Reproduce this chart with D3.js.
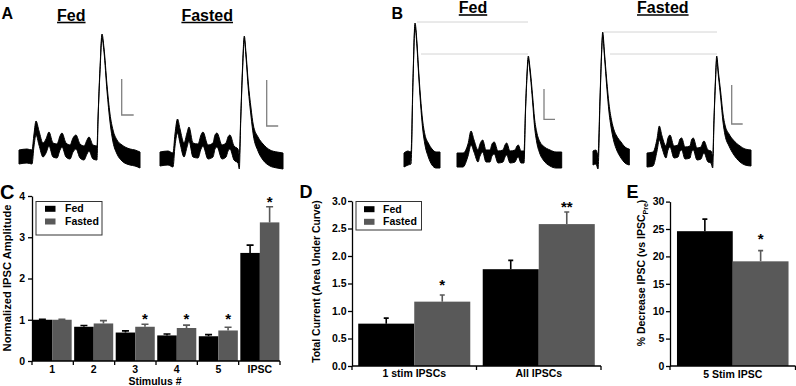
<!DOCTYPE html>
<html><head><meta charset="utf-8">
<script src="https://cdn.jsdelivr.net/npm/d3@7"></script>
<style>
body{margin:0;background:#fff;}
svg{display:block;font-family:"Liberation Sans",Arial,sans-serif;font-weight:bold;}
</style>
</head><body>
<svg id="chart" width="796" height="386"></svg>
<script>
// ---------- DATA ----------
// Panel C
const cCategories = ["1","2","3","4","5","IPSC"];
const cFed        = [1.00, 0.83, 0.69, 0.62, 0.60, 2.62];
const cFedErr     = [0.01, 0.03, 0.04, 0.035, 0.04, 0.19];
const cFasted     = [1.00, 0.91, 0.83, 0.80, 0.74, 3.36];
const cFastedErr  = [0.01, 0.07, 0.06, 0.07, 0.08, 0.38];
const cStars      = ["", "", "*", "*", "*", "*"];
const cStarLevel  = [null, null, 1.10, 1.10, 1.10, 3.94];
const cTicks      = [0, 1, 2, 3, 4];
// Panel D
const dCategories = ["1 stim IPSCs", "All IPSCs"];
const dFed        = [0.77, 1.76];
const dFedErr     = [0.10, 0.16];
const dFasted     = [1.17, 2.58];
const dFastedErr  = [0.12, 0.22];
const dStars      = ["*", "**"];
const dStarLevel  = [1.54, 2.96];
const dTicks      = [0, 0.5, 1.0, 1.5, 2.0, 2.5, 3.0];
// Panel E
const eCategories = ["5 Stim IPSC"];
const eFed        = [24.6];
const eFedErr     = [2.2];
const eFasted     = [19.1];
const eFastedErr  = [1.95];
const eStars      = ["*"];
const eStarLevel  = [23.9];
const eTicks      = [0, 5, 10, 15, 20, 25, 30];
const groups      = ["Fed", "Fasted"];

// Traces: [time (ms), current (pA, upward), noise half-band]
const aFedTrace = [[0,13,7],[8,14,7],[13,13,7],[15,30,6],[17,42,7],[20,32,7],[24,20,7],[27,24,7],[30,31,7],[34,20,7],[38,19,7],[41,27,7],[43,30,7],[47,20,7],[51,18,7],[54,25,7],[57,28,7],[61,19,7],[65,17,7],[68,23,7],[70,26,7],[74,18,7],[78,17,7],[79,50,2],[81,100,2],[83,134,2],[85,120,2],[88,82,3],[91,52,4],[94,34,6],[98,23,7],[103,17,8],[111,13,8],[116,12,8],[121,10,8]];
const aFastedTrace = [[0,11,7],[8,12,7],[13,10,7],[15,30,6],[17.5,44,7],[20,34,7],[24,20,7],[27,30,7],[29,36,7],[33,20,7],[38,19,7],[41,28,7],[43,31,7],[48,18,7],[53,20,7],[55,28,7],[57,30,7],[62,18,7],[66,20,7],[68,26,7],[70,28,7],[74,17,7],[78,14,7],[79.3,8,7],[80.7,50,2],[82.5,100,2],[84.3,132,2],[86,115,2],[88.3,84,3],[91,58,4],[93.3,40,5],[98,26,7],[103,18,8],[110,12,8],[117,10,8],[123,9,8]];
const bFedTrace1 = [[0,10,7],[4,12,7],[7,12,6],[9,90,2],[11,145,2],[13,125,2],[14.3,103,2],[16.5,70,3],[18.7,45,4],[21,30,5],[24.3,20,7],[28,13,8],[32,10,8],[36,10,8]];
const bFedTrace2 = [[0,10,7],[6,10,7],[11,20,6],[14,32,7],[17,24,6],[21,14,6],[23,20,6],[25.7,24,6],[29,14,6],[33,14,6],[35,20,6],[37.3,22,6],[41,13,6],[46,14,6],[48,19,6],[49.7,21,6],[53,13,6],[58,14,6],[60,18,6],[61.3,19,6],[64,13,6],[67,13,6],[68.5,60,2],[70,95,2],[71.3,112,2],[73,100,2],[75.7,70,3],[77.5,48,4],[79.7,33,5],[83,22,6],[86.3,17,7],[93,12,8],[99,10,8],[104.7,10,8]];
const bFastedTrace1 = [[0,12,7],[3,13,7],[5,8,7],[7,70,2],[8.5,115,2],[9.7,136,2],[11.5,115,2],[13.7,87,3],[16,62,4],[18.7,44,5],[21,34,6],[23.7,27,7],[28,20,8],[32,15,8],[36.3,13,8]];
const bFastedTrace2 = [[0,10,7],[6,11,7],[10,25,6],[12.3,37,7],[15,28,6],[19,18,6],[21,26,6],[23,29,6],[27,18,6],[31,19,6],[33,25,6],[34.7,26,6],[38,17,6],[43,18,6],[44.5,24,6],[46.3,26,6],[50,16,6],[54,17,6],[56,22,6],[57,23,6],[61,14,6],[64,13,6],[65.7,8,6],[67,50,2],[68.5,90,2],[69.7,112,2],[71.5,95,2],[73.7,75,3],[76,52,4],[78,40,5],[82,30,6],[86.3,23,7],[93,16,8],[98,13,8],[104,12,8]];
const bFedSegStart    = [0, 53];
const bFastedSegStart = [0, 54];
const bFedRefs    = [[13,124,148],[17,124,116]];   // [t0, t1, level]
const bFastedRefs = [[11,124,138],[17,124,116]];
// scale bars: [time, level, dt, dv]
const aFedBar    = [102.7, 55, 12, 36];
const aFastedBar = [106.7, 44, 11.5, 46];
const bFedBar    = [140, 50.7, 11, 30.3];
const bFastedBar = [138.7, 46, 11, 39];

// ---------- DRAW ----------
const svg = d3.select("#chart");
const FED = "#000000", FAST = "#595959";
const colorOf = g => g === "Fed" ? FED : FAST;

// trace drawing
const yT = d3.scaleLinear().domain([0, 150]).range([170, 20]);
function drawTrace(x0, segs, starts, refs, bar) {
  const dur = d3.max(segs, (s, i) => starts[i] + d3.max(s, d => d[0]));
  const xT = d3.scaleLinear().domain([0, dur]).range([x0, x0 + dur]);
  const g = svg.append("g");
  if (refs) refs.forEach(r => {
    g.append("line").attr("x1", xT(r[0])).attr("x2", xT(r[1]))
      .attr("y1", yT(r[2])).attr("y2", yT(r[2]))
      .attr("stroke", "#d4d4d4").attr("stroke-width", 1);
  });
  segs.forEach((s, i) => {
    const area = d3.area()
      .x(d => xT(starts[i] + d[0]))
      .y0(d => yT(d[1] - d[2]))
      .y1(d => yT(d[1] + d[2]))
      .curve(d3.curveMonotoneX);
    g.append("path").attr("d", area(s)).attr("fill", "#000")
      .attr("stroke", "#000").attr("stroke-width", 1).attr("stroke-linejoin", "round");
  });
  g.append("path")
    .attr("d", `M${xT(bar[0])},${yT(bar[1] + bar[3])}V${yT(bar[1])}H${xT(bar[0] + bar[2])}`)
    .attr("fill", "none").attr("stroke", "#808080").attr("stroke-width", 1.3);
}
drawTrace(19, [aFedTrace], [0], null, aFedBar);
drawTrace(160, [aFastedTrace], [0], null, aFastedBar);
drawTrace(404, [bFedTrace1, bFedTrace2], bFedSegStart, bFedRefs, bFedBar);
drawTrace(593, [bFastedTrace1, bFastedTrace2], bFastedSegStart, bFastedRefs, bFastedBar);

// titles
function title(text, cx, y) {
  const t = svg.append("text").attr("x", cx).attr("y", y).attr("text-anchor", "middle")
    .attr("font-size", 16).text(text);
  const w = t.node().getComputedTextLength();
  svg.append("line").attr("x1", cx - w / 2).attr("x2", cx + w / 2)
    .attr("y1", y + 2).attr("y2", y + 2).attr("stroke", "#000").attr("stroke-width", 1.6);
}
title("Fed", 71.3, 20.5);
title("Fasted", 207.2, 20.5);
title("Fed", 473, 13);
title("Fasted", 662.8, 13);

function letter(t, x, y, size) {
  svg.append("text").attr("x", x).attr("y", y).attr("font-size", size).text(t);
}
letter("A", 1.5, 18.5, 16);
letter("B", 391.5, 18.5, 16);
letter("C", 0, 198.5, 20);
letter("D", 299.5, 198, 18);
letter("E", 626.5, 198, 18);

// bar panel helper
function barPanel(o) {
  const g = svg.append("g");
  const y = d3.scaleLinear().domain(o.ydomain).range([o.y0, o.y1]);
  const x = d3.scaleBand().domain(o.cats).range([o.x0, o.x1])
    .paddingInner(o.pi).paddingOuter(o.po);
  const xs = d3.scaleBand().domain(groups).range([0, x.bandwidth()]);
  const rows = [];
  o.cats.forEach((c, i) => {
    rows.push({c, g: "Fed", v: o.fed[i], e: o.fedErr[i]});
    rows.push({c, g: "Fasted", v: o.fast[i], e: o.fastErr[i]});
  });
  g.selectAll("rect.bar").data(rows).join("rect")
    .attr("x", d => x(d.c) + xs(d.g)).attr("width", xs.bandwidth())
    .attr("y", d => y(d.v)).attr("height", d => y(0) - y(d.v))
    .attr("fill", d => colorOf(d.g));
  rows.forEach(d => {
    const cx = x(d.c) + xs(d.g) + xs.bandwidth() / 2;
    const top = y(d.v + d.e);
    g.append("path").attr("d", `M${cx},${y(d.v)}V${top}M${cx - o.cap / 2},${top}H${cx + o.cap / 2}`)
      .attr("stroke", colorOf(d.g)).attr("stroke-width", 1.6).attr("fill", "none");
  });
  o.cats.forEach((c, i) => {
    if (!o.stars[i]) return;
    const cx = x(c) + xs("Fasted") + xs.bandwidth() / 2;
    g.append("text").attr("x", cx).attr("y", y(o.starLevel[i]) + 8.5)
      .attr("text-anchor", "middle").attr("font-size", 15).text(o.stars[i]);
  });
  const ay = g.append("g").attr("transform", `translate(${o.x0},0)`)
    .call(d3.axisLeft(y).tickValues(o.ticks).tickFormat(o.fmt).tickSize(4).tickSizeOuter(0).tickPadding(o.tp));
  ay.select(".domain").attr("stroke-width", 1.3);
  ay.selectAll(".tick line").attr("stroke-width", 1.3);
  ay.selectAll("text").attr("font-size", 10.5).attr("font-family", null).attr("fill", "#000");
  g.append("line").attr("x1", o.x0).attr("x2", o.x1).attr("y1", y(0)).attr("y2", y(0))
    .attr("stroke", "#000").attr("stroke-width", 1.3);
  const nb = o.cats.length;
  d3.range(nb + 1).forEach(i => {
    const bx = o.x0 + i * (o.x1 - o.x0) / nb;
    g.append("line").attr("x1", bx).attr("x2", bx).attr("y1", y(0)).attr("y2", y(0) + 4)
      .attr("stroke", "#000").attr("stroke-width", 1.3);
  });
  g.selectAll("text.cat").data(o.cats).join("text").attr("class", "cat")
    .attr("x", c => x(c) + x.bandwidth() / 2).attr("y", o.labY)
    .attr("text-anchor", "middle").attr("font-size", 10.5).text(c => c);
  const yt = g.append("text")
    .attr("transform", `translate(${o.ytx},${o.yty}) rotate(-90)`)
    .attr("text-anchor", "middle").attr("font-size", o.ytSize);
  o.ytitle(yt);
  return {g, x, y};
}

// Panel C
barPanel({
  cats: cCategories, fed: cFed, fedErr: cFedErr, fast: cFasted, fastErr: cFastedErr,
  stars: cStars, starLevel: cStarLevel, ticks: cTicks, fmt: d3.format("d"),
  ydomain: [0, 4], y0: 361, y1: 196, x0: 32, x1: 280, pi: 0.06, po: 0.015, cap: 7, tp: 3,
  labY: 372.5, ytx: 10.5, yty: 278, ytSize: 11.2,
  ytitle: t => t.text("Normalized IPSC Amplitude")
});
svg.append("text").attr("x", 155).attr("y", 385).attr("text-anchor", "middle")
  .attr("font-size", 10.5).text("Stimulus #");

// Panel D
barPanel({
  cats: dCategories, fed: dFed, fedErr: dFedErr, fast: dFasted, fastErr: dFastedErr,
  stars: dStars, starLevel: dStarLevel, ticks: dTicks, fmt: d3.format(".1f"),
  ydomain: [0, 3], y0: 366, y1: 201, x0: 352, x1: 601, pi: 0.1, po: 0.05, cap: 5, tp: 1.5,
  labY: 377, ytx: 319.5, yty: 281.5, ytSize: 10.4,
  ytitle: t => t.text("Total Current (Area Under Curve)")
});

// Panel E
barPanel({
  cats: eCategories, fed: eFed, fedErr: eFedErr, fast: eFasted, fastErr: eFastedErr,
  stars: eStars, starLevel: eStarLevel, ticks: eTicks, fmt: d3.format("d"),
  ydomain: [0, 30], y0: 366, y1: 201.6, x0: 670, x1: 795.5, pi: 0, po: 0.0625, cap: 5, tp: 1.7,
  labY: 377.5, ytx: 645, yty: 273, ytSize: 10.5,
  ytitle: t => {
    t.append("tspan").text("% Decrease IPSC (vs IPSC");
    t.append("tspan").attr("font-size", 7).attr("dy", 2.5).text("Pre");
    t.append("tspan").attr("dy", -2.5).text(")");
  }
});

// Legends
function legend(x, y, w, h, sx, tx, rowsY) {
  const g = svg.append("g");
  g.append("rect").attr("x", x).attr("y", y).attr("width", w).attr("height", h)
    .attr("fill", "#fff").attr("stroke", "#333").attr("stroke-width", 1);
  groups.forEach((gr, i) => {
    g.append("rect").attr("x", sx).attr("y", rowsY[i] - 6.5).attr("width", 10.5).attr("height", 6)
      .attr("fill", colorOf(gr));
    g.append("text").attr("x", tx).attr("y", rowsY[i]).attr("font-size", 10.5).text(gr);
  });
}
legend(36, 201.5, 66, 33.5, 45, 65, [212.3, 225]);
legend(356, 201.5, 65.5, 28.5, 364, 383, [212.7, 225.3]);
</script>
</body></html>
